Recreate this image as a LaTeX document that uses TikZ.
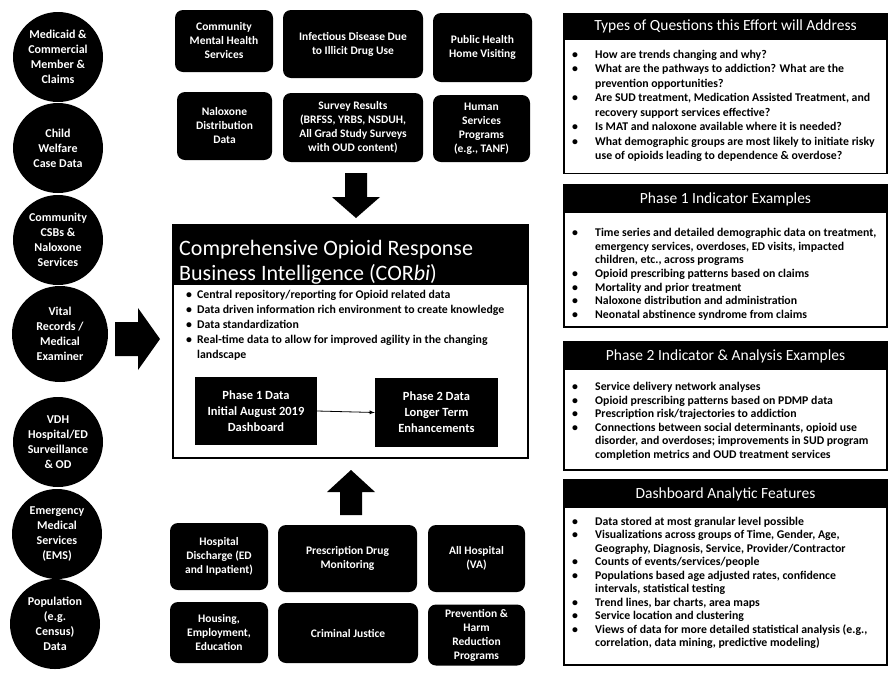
\documentclass[tikz,border=0pt]{standalone}
\usepackage{fontspec}
\setmainfont{Carlito}
\newcommand{\bl}[1]{\makebox[31pt][l]{\hspace{8pt}\textbullet}#1}
\newcommand{\cl}[1]{\makebox[31pt]{}#1}
\newcommand{\cb}[1]{\makebox[11pt][l]{\textbullet}#1}
\newcommand{\cc}[1]{\makebox[11pt]{}#1}
\begin{document}
\begin{tikzpicture}[x=1pt,y=-1pt,
  circ/.style={circle,fill=black,text=white,minimum size=90pt,inner sep=0pt,align=center,
    font=\fontsize{12}{15}\selectfont\bfseries},
  rbox/.style={rounded corners=8pt,fill=black,text=white,inner sep=0pt,align=center,
    font=\fontsize{11.5}{14}\selectfont\bfseries},
  phasebox/.style={fill=black,text=white,inner sep=0pt,align=center,
    font=\fontsize{12.5}{16}\selectfont\bfseries},
  blockarrow/.style={fill=black},
  paneltitle/.style={fill=black,text=white,inner sep=0pt,font=\fontsize{15.5}{18}\selectfont},
  panelbody/.style={draw=black,line width=1.6pt,fill=white,inner sep=0pt},
  bullets/.style={anchor=north west,inner sep=0pt,align=left,
    font=\fontsize{11.8}{13.6}\selectfont\bfseries},
  link/.style={draw=black,line width=0.8pt,-latex}]
\useasboundingbox (0,0) rectangle (891,673);

% left circles
\node[circ] (c1) at (58,57) {Medicaid \&\\Commercial\\Member \&\\Claims};
\node[circ] (c2) at (58,148) {Child\\Welfare\\Case Data};
\node[circ] (c3) at (58,240) {Community\\CSBs \&\\Naloxone\\Services};
\node[circ,minimum size=96pt] (c4) at (60,334) {Vital\\Records /\\Medical\\Examiner};
\node[circ] (c5) at (58,442) {VDH\\Hospital/ED\\Surveillance\\\& OD};
\node[circ] (c6) at (57,534) {Emergency\\Medical\\Services\\(EMS)};
\node[circ] (c7) at (55,624) {Population\\(e.g.\\Census)\\Data};

% top source boxes
\node[rbox,minimum width=98pt,minimum height=62pt] (t1) at (224,41) {Community\\Mental Health\\Services};
\node[rbox,minimum width=140pt,minimum height=68pt] (t2) at (353,44) {Infectious Disease Due\\to Illicit Drug Use};
\node[rbox,minimum width=99pt,minimum height=69pt] (t3) at (482.5,47.5) {Public Health\\Home Visiting};
\node[rbox,minimum width=95pt,minimum height=68pt] (t4) at (224.5,126) {Naloxone\\Distribution\\Data};
\node[rbox,minimum width=140pt,minimum height=69pt] (t5) at (353,127.5) {Survey Results\\(BRFSS, YRBS, NSDUH,\\All Grad Study Surveys\\with OUD content)};
\node[rbox,minimum width=97pt,minimum height=67pt] (t6) at (481.5,128.5) {Human\\Services\\Programs\\(e.g., TANF)};

% bottom source boxes
\node[rbox,minimum width=98pt,minimum height=67pt] (b1) at (219,556.5) {Hospital\\Discharge (ED\\and Inpatient)};
\node[rbox,minimum width=139pt,minimum height=67pt] (b2) at (347.5,558.5) {Prescription Drug\\Monitoring};
\node[rbox,minimum width=97pt,minimum height=67pt] (b3) at (476.5,558.5) {All Hospital\\(VA)};
\node[rbox,minimum width=98pt,minimum height=61pt] (b4) at (219,632.5) {Housing,\\Employment,\\Education};
\node[rbox,minimum width=140pt,minimum height=60pt] (b5) at (348,633) {Criminal Justice};
\node[rbox,minimum width=97pt,minimum height=61pt] (b6) at (476.5,635) {Prevention \&\\Harm\\Reduction\\Programs};

% block arrows
\fill[blockarrow] (345,173) -- (367,173) -- (367,197) -- (380,197) -- (356,218) -- (332,197) -- (345,197) -- cycle;
\fill[blockarrow] (340,515) -- (362,515) -- (362,492) -- (375,492) -- (351,470) -- (327,492) -- (340,492) -- cycle;
\fill[blockarrow] (115,322) -- (138,322) -- (138,308) -- (160,339) -- (138,370) -- (138,356) -- (115,356) -- cycle;

% CORBI box
\node[draw=black,line width=1.6pt,minimum width=355pt,minimum height=233pt,inner sep=0pt] (corbi) at (350.5,341.5) {};
\fill[black] (corbi.north west) rectangle (528,285);
\node[anchor=north west,inner sep=0pt,align=left,text=white,font=\fontsize{22}{25}\selectfont] (corbititle) at (179,240)
  {Comprehensive Opioid Response\\Business Intelligence (COR\textit{bi})};
\node[bullets,font=\fontsize{11.8}{15}\selectfont\bfseries] (corbilist) at (186,290)
  {\cb{Central repository/reporting for Opioid related data}\\
   \cb{Data driven information rich environment to create knowledge}\\
   \cb{Data standardization}\\
   \cb{Real-time data to allow for improved agility in the changing}\\
   \cc{landscape}};
\node[phasebox,minimum width=122pt,minimum height=68pt] (p1) at (256,411) {Phase 1 Data\\Initial August 2019\\Dashboard};
\node[phasebox,minimum width=123pt,minimum height=69pt] (p2) at (436.5,412.5) {Phase 2 Data\\Longer Term\\Enhancements};
\draw[link] (p1.east) -- (p2.west);

% right panels
\node[panelbody,minimum width=323pt,minimum height=160pt] (q) at (725.5,93.5) {};
\node[paneltitle,minimum width=323pt,minimum height=27pt] (qt) at (725.5,26.5) {Types of Questions this Effort will Address};
\node[bullets,font=\fontsize{11.8}{14.5}\selectfont\bfseries] (ql) at (564,50)
  {\bl{How are trends changing and why?}\\
   \bl{What are the pathways to addiction? What are the}\\
   \cl{prevention opportunities?}\\
   \bl{Are SUD treatment, Medication Assisted Treatment, and}\\
   \cl{recovery support services effective?}\\
   \bl{Is MAT and naloxone available where it is needed?}\\
   \bl{What demographic groups are most likely to initiate risky}\\
   \cl{use of opioids leading to dependence \& overdose?}};

\node[panelbody,minimum width=323pt,minimum height=142pt] (i1) at (725.5,256) {};
\node[paneltitle,minimum width=323pt,minimum height=28pt] (i1t) at (725.5,199) {Phase 1 Indicator Examples};
\node[bullets,font=\fontsize{11.8}{13.7}\selectfont\bfseries] (i1l) at (564,228)
  {\bl{Time series and detailed demographic data on treatment,}\\
   \cl{emergency services, overdoses, ED visits, impacted}\\
   \cl{children, etc., across programs}\\
   \bl{Opioid prescribing patterns based on claims}\\
   \bl{Mortality and prior treatment}\\
   \bl{Naloxone distribution and administration}\\
   \bl{Neonatal abstinence syndrome from claims}};

\node[panelbody,minimum width=323pt,minimum height=128pt] (i2) at (725.5,406) {};
\node[paneltitle,minimum width=323pt,minimum height=28pt] (i2t) at (725.5,356) {Phase 2 Indicator \& Analysis Examples};
\node[bullets] (i2l) at (564,382)
  {\bl{Service delivery network analyses}\\
   \bl{Opioid prescribing patterns based on PDMP data}\\
   \bl{Prescription risk/trajectories to addiction}\\
   \bl{Connections between social determinants, opioid use}\\
   \cl{disorder, and overdoses; improvements in SUD program}\\
   \cl{completion metrics and OUD treatment services}};

\node[panelbody,minimum width=323pt,minimum height=185pt] (d) at (725.5,572.5) {};
\node[paneltitle,minimum width=323pt,minimum height=28pt] (dt) at (725.5,494) {Dashboard Analytic Features};
\node[bullets,font=\fontsize{11.8}{13.5}\selectfont\bfseries] (dl) at (564,517)
  {\bl{Data stored at most granular level possible}\\
   \bl{Visualizations across groups of Time, Gender, Age,}\\
   \cl{Geography, Diagnosis, Service, Provider/Contractor}\\
   \bl{Counts of events/services/people}\\
   \bl{Populations based age adjusted rates, confidence}\\
   \cl{intervals, statistical testing}\\
   \bl{Trend lines, bar charts, area maps}\\
   \bl{Service location and clustering}\\
   \bl{Views of data for more detailed statistical analysis (e.g.,}\\
   \cl{correlation, data mining, predictive modeling)}};
\end{tikzpicture}
\end{document}
